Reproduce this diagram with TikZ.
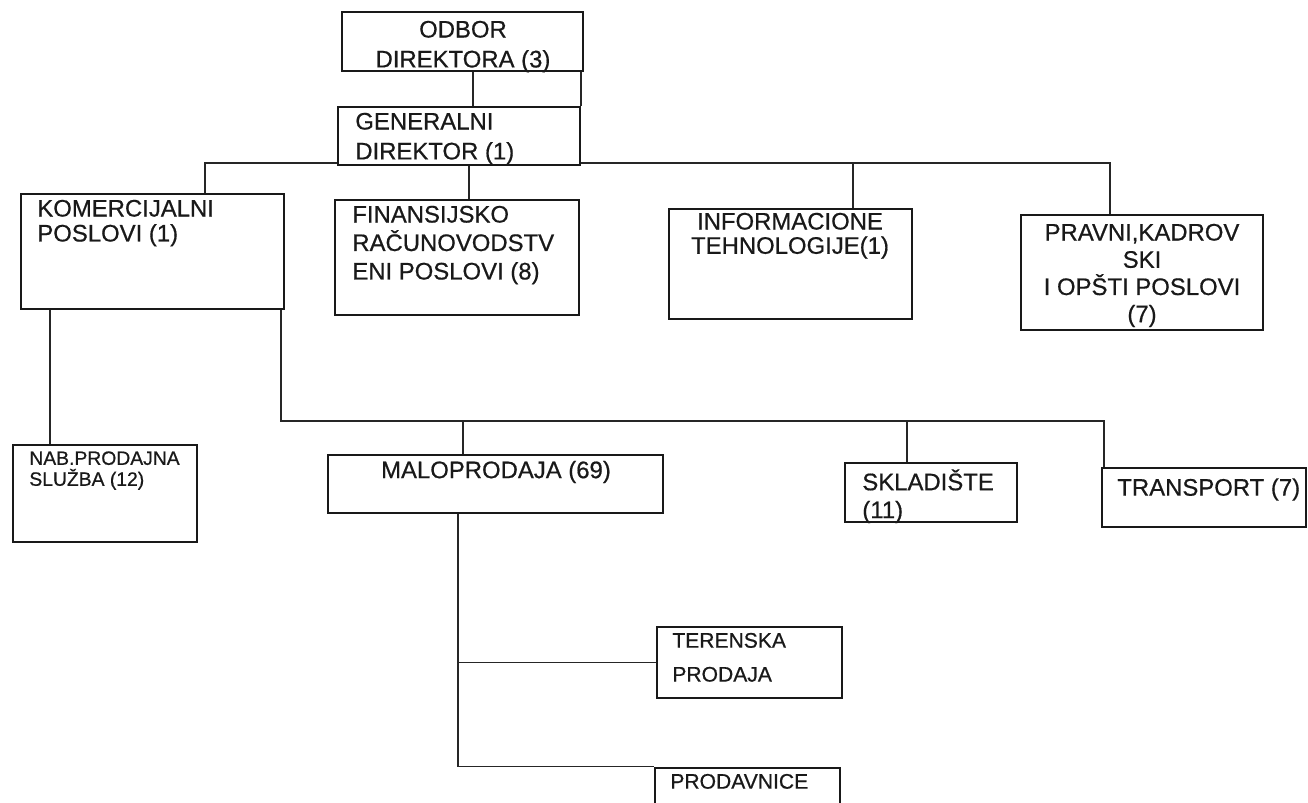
\documentclass[tikz,border=0pt]{standalone}
\usepackage{fontspec}
\setmainfont[FakeBold=0.6]{Liberation Sans}
\usetikzlibrary{fit}
\newcommand\fsz[2]{\fontsize{#1}{#2}\selectfont}
\begin{document}
\begin{tikzpicture}[x=0.02cm,y=-0.02cm,
  box/.style={draw=black!90, line width=1.4pt, fill=white, inner sep=0pt},
  link/.style={draw=black!85, line width=0.6pt},
  txt/.style={inner sep=0pt, text=black!90, font=\fsz{13.6}{16}}]
\useasboundingbox (0,0) rectangle (1308,803);
\fill[white] (0,0) rectangle (1308,803);

% boxes
\node[box, fit={(342,12) (583,71)}] (odb) {};
\node[box, fit={(338,107) (580,165)}] (gen) {};
\node[box, fit={(21,194) (284,309)}] (kom) {};
\node[box, fit={(335,200) (579,315)}] (fin) {};
\node[box, fit={(669,209) (912,319)}] (inf) {};
\node[box, fit={(1021,215) (1263,330)}] (pra) {};
\node[box, fit={(13,445) (197,542)}] (nab) {};
\node[box, fit={(328,455) (663,513)}] (mal) {};
\node[box, fit={(845,463) (1017,522)}] (skl) {};
\node[box, fit={(1102,468) (1306,527)}] (tra) {};
\node[box, fit={(657,627) (842,698)}] (ter) {};
\node[box, fit={(655,768) (840,815)}] (prd) {};

% texts
\node[txt, font=\fsz{13.6}{17}, align=center, anchor=north] (odbt) at (463,20.5) {ODBOR\\DIREKTORA (3)};
\node[txt, font=\fsz{13.6}{17}, align=left, anchor=north west] (gent) at (355,112.5) {GENERALNI\\DIREKTOR (1)};
\node[txt, font=\fsz{13.6}{14.2}, align=left, anchor=north west] (komt) at (37,199.5) {KOMERCIJALNI\\POSLOVI (1)};
\node[txt, font=\fsz{13.6}{16.2}, align=left, anchor=north west] (fint) at (352,205.5) {FINANSIJSKO\\RAČUNOVODSTV\\ENI POSLOVI (8)};
\node[txt, font=\fsz{13.6}{13.8}, align=center, anchor=north] (inft) at (790,212.5) {INFORMACIONE\\TEHNOLOGIJE(1)};
\node[txt, font=\fsz{13.6}{15.5}, align=center, anchor=north] (prat) at (1142,223.5) {PRAVNI,KADROV\\SKI\\I OPŠTI POSLOVI\\(7)};
\node[txt, font=\fsz{11}{11.9}, align=left, anchor=north west] (nabt) at (29,451) {NAB.PRODAJNA\\SLUŽBA (12)};
\node[txt, anchor=north] (malt) at (496,460.5) {MALOPRODAJA (69)};
\node[txt, font=\fsz{13.6}{15.9}, align=left, anchor=north west] (sklt) at (862,469) {SKLADIŠTE\\(11)};
\node[txt, anchor=north west] (trat) at (1117,478) {TRANSPORT (7)};
\node[txt, font=\fsz{12}{19.3}, align=left, anchor=north west] (tert) at (672,632.6) {TERENSKA\\PRODAJA};
\node[txt, font=\fsz{12}{14}, anchor=north west] (prdt) at (670,773.6) {PRODAVNICE};

% helper coordinates
\coordinate (x473) at (473,0);
\coordinate (x581) at (581,0);
\coordinate (x469) at (469,0);
\coordinate (b1l) at (205,163);
\coordinate (b1r) at (1110,163);
\coordinate (x853) at (853,0);
\coordinate (x50) at (50,0);
\coordinate (b2l) at (281,421);
\coordinate (b2r) at (1104,421);
\coordinate (x463) at (463,0);
\coordinate (x907) at (907,0);
\coordinate (x458) at (458,0);

% connectors
\draw[link] (odb.south -| x473) -- (gen.north -| x473);
\draw[link] (odb.south -| x581) -- (gen.north -| x581);
\draw[link] (kom.north -| b1l) -- (b1l) -- (gen.west |- b1l);
\draw[link] (gen.east |- b1r) -- (b1r) -- (pra.north -| b1r);
\draw[link] (gen.south -| x469) -- (fin.north -| x469);
\draw[link] (b1r -| x853) -- (inf.north -| x853);
\draw[link] (kom.south -| x50) -- (nab.north -| x50);
\draw[link] (kom.south -| b2l) -- (b2l) -- (b2r) -- (tra.north -| b2r);
\draw[link] (b2l -| x463) -- (mal.north -| x463);
\draw[link] (b2l -| x907) -- (skl.north -| x907);
\draw[link] (mal.south -| x458) -- (prd.north west -| x458) -- (prd.north west);
\draw[link] (ter.west -| x458) -- (ter.west);
\end{tikzpicture}
\end{document}
